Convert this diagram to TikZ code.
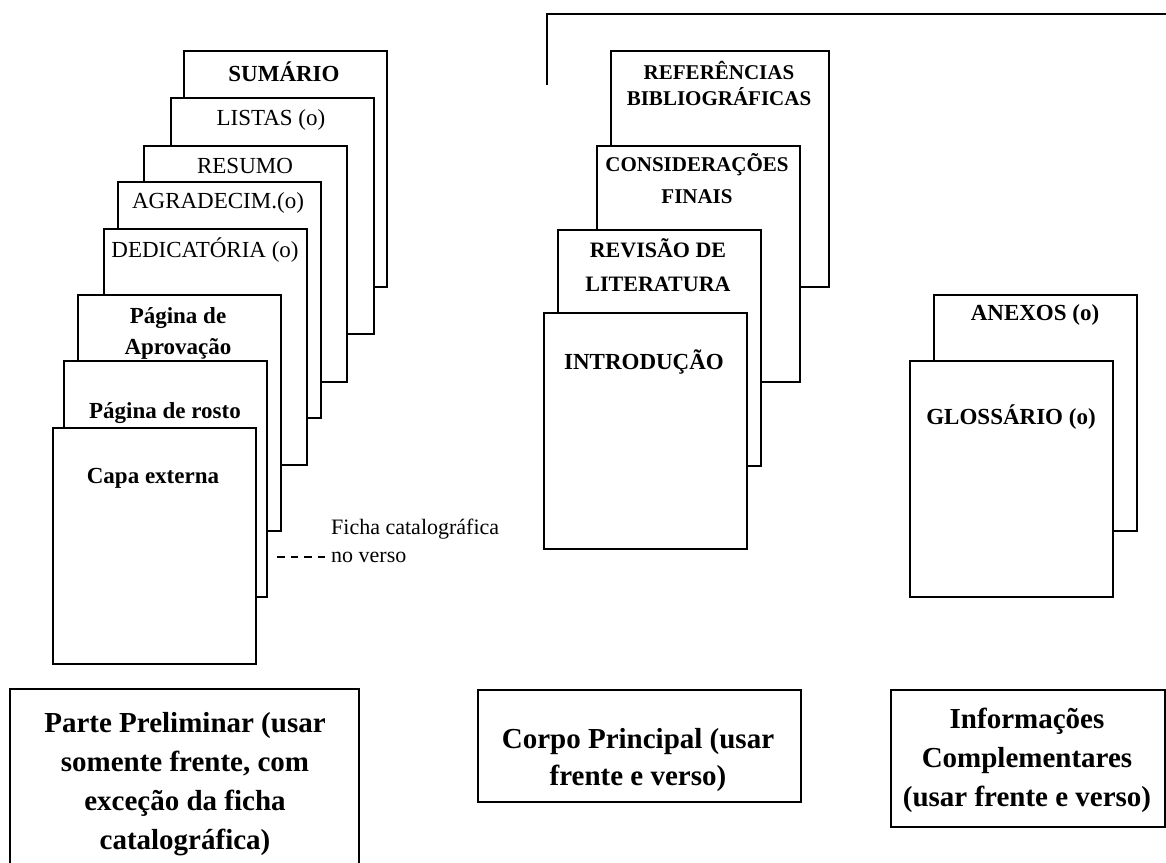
\documentclass[tikz,border=0pt]{standalone}
\usepackage{fontspec}
\setmainfont{Liberation Serif}
\begin{document}
\begin{tikzpicture}[x=1pt,y=-1pt,
  page/.style={draw, line width=1.8pt, fill=white, minimum width=203pt, minimum height=236pt, anchor=north west, inner sep=0pt},
  rtxt/.style={font=\fontsize{23}{27}\selectfont, inner sep=0pt, align=center},
  btxt/.style={font=\fontsize{23}{27}\selectfont\bfseries, inner sep=0pt, align=center},
  bigtxt/.style={font=\fontsize{29}{39}\selectfont\bfseries, inner sep=0pt, align=center},
  frame/.style={draw, line width=1.8pt, anchor=north west, inner sep=0pt},
  lin/.style={line width=1.8pt}
]
\useasboundingbox (0,0) rectangle (1166,862);

% top bracket
\coordinate (brA) at (547,85);
\coordinate (brB) at (547,14);
\coordinate (brC) at (1166,14);
\draw[lin] (brA) -- (brB) -- (brC);

% left stack (back to front)
\node[page] (sum) at (183,50) {};
\node[btxt] (tsum) at (284,72) {SUMÁRIO};
\node[page] (lis) at (170,97) {};
\node[rtxt] (tlis) at (271,120) {LISTAS (o)};
\node[page] (res) at (143,145) {};
\node[rtxt] (tres) at (245,166) {RESUMO};
\node[page] (agr) at (117,181) {};
\node[rtxt] (tagr) at (218,203) {AGRADECIM.(o)};
\node[page] (ded) at (103,228) {};
\node[rtxt] (tded) at (205,250) {DEDICATÓRIA (o)};
\node[page] (apr) at (77,294) {};
\node[btxt, font=\fontsize{23}{31}\selectfont\bfseries] (tapr) at (178,333) {Página de\\Aprovação};
\node[page] (ros) at (63,360) {};
\node[btxt] (tros) at (165,413) {Página de rosto};
\node[page] (cap) at (52,427) {};
\node[btxt] (tcap) at (153,478) {Capa externa};

% ficha catalografica
\node[rtxt, font=\fontsize{22}{28}\selectfont, anchor=west, align=left] (ficha) at (331,541) {Ficha catalográfica\\no verso};
\coordinate (fe) at (277,557);
\draw[line width=1.3pt, dash pattern=on 7.6pt off 6pt] (fe) -- (ficha.west |- fe) ++(-5,0);

% middle stack
\node[page, minimum width=218pt] (ref) at (610,50) {};
\node[btxt, font=\fontsize{21}{26}\selectfont\bfseries] (tref) at (719,83) {REFERÊNCIAS\\BIBLIOGRÁFICAS};
\node[page] (con) at (596,145) {};
\node[btxt, font=\fontsize{21}{32}\selectfont\bfseries] (tcon) at (697,179) {CONSIDERAÇÕES\\FINAIS};
\node[page] (rev) at (557,229) {};
\node[btxt, font=\fontsize{22}{34}\selectfont\bfseries] (trev) at (658,265) {REVISÃO DE\\LITERATURA};
\node[page] (int) at (543,312) {};
\node[btxt] (tint) at (644,362) {INTRODUÇÃO};

% right stack
\node[page] (anx) at (933,294) {};
\node[btxt] (tanx) at (1035,315) {ANEXOS (o)};
\node[page] (glo) at (909,360) {};
\node[btxt] (tglo) at (1011,417) {GLOSSÁRIO (o)};

% bottom boxes
\coordinate (b1a) at (10,866);
\coordinate (b1b) at (10,689);
\coordinate (b1c) at (359,689);
\coordinate (b1d) at (359,866);
\draw[lin] (b1a) -- (b1b) -- (b1c) -- (b1d);
\node[bigtxt] (tb1) at (185,784) {Parte Preliminar (usar\\somente frente, com\\exceção da ficha\\catalográfica)};

\node[frame, minimum width=323pt, minimum height=112pt] (b2) at (477,689) {};
\node[bigtxt, font=\fontsize{29}{37}\selectfont\bfseries] (tb2) at (638,760) {Corpo Principal (usar\\frente e verso)};

\node[frame, minimum width=274pt, minimum height=137pt] (b3) at (890,689) {};
\node[bigtxt, font=\fontsize{29}{39}\selectfont\bfseries] (tb3) at (1027,760) {Informações\\Complementares\\(usar frente e verso)};
\end{tikzpicture}
\end{document}
